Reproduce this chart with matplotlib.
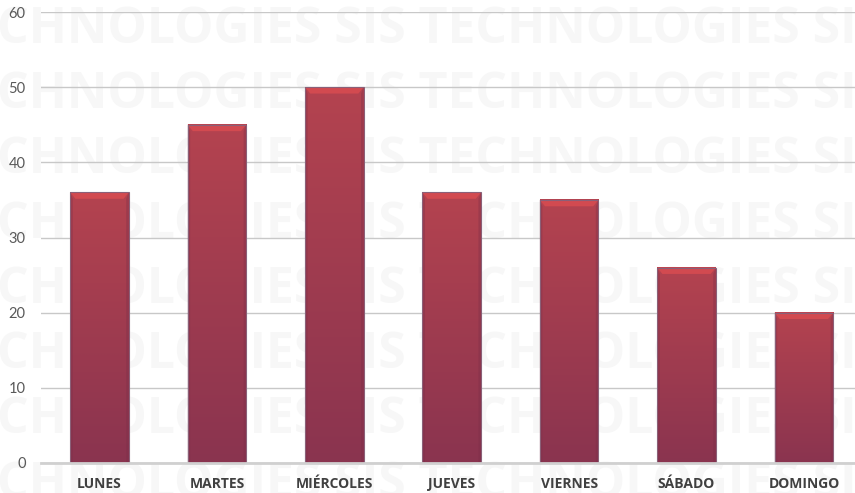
"""Bar chart: visitas por día de la semana, estilo Excel con marca de agua."""
import numpy as np
import matplotlib.pyplot as plt
from matplotlib.patches import Polygon, Rectangle
from matplotlib.colors import LinearSegmentedColormap

dias = ['LUNES', 'MARTES', 'MIÉRCOLES', 'JUEVES', 'VIERNES', 'SÁBADO', 'DOMINGO']
valores = [36, 45, 50, 36, 35, 26, 20]
y_ticks = [0, 10, 20, 30, 40, 50, 60]
marca = 'CHNOLOGIES SIS TECHNOLOGIES SIS'

W, H = 855, 493
fig = plt.figure(figsize=(W / 100, H / 100), dpi=100)
fig.patch.set_facecolor('white')

# marca de agua detrás del gráfico
for yc in [30, 95, 160, 225, 290, 355, 420, 485]:
    fig.text(-3 / W, 1 - yc / H, marca, ha='left', va='center',
             fontsize=35.8, fontweight='bold', family='Open Sans',
             color='#f7f7f7', zorder=-10)

ax = fig.add_axes([40.8 / W, 30 / H, 821.8 / W, 451 / H])
ax.patch.set_alpha(0)

grad = LinearSegmentedColormap.from_list('barra', ['#8a3450', '#b4434f'])
g = np.linspace(0, 1, 256).reshape(-1, 1)
ancho = 0.5
x = np.arange(len(dias))
for xi, v in zip(x, valores):
    x0, x1 = xi - ancho / 2, xi + ancho / 2
    ax.imshow(g, cmap=grad, origin='lower', extent=[x0, x1, 0, v],
              aspect='auto', zorder=2, interpolation='bicubic')
    # bisel superior
    dx, dy = 0.045, 0.85
    ax.add_patch(Polygon([(x0, v), (x1, v), (x1 - dx, v - dy), (x0 + dx, v - dy)],
                         closed=True, facecolor='#d24a50', edgecolor='none',
                         zorder=3))
    # bordes laterales oscuros
    ax.add_patch(Polygon([(x0, v), (x0 + dx * 0.5, v - dy), (x0 + dx * 0.5, 0), (x0, 0)],
                         closed=True, facecolor='#7a2e48', alpha=0.35,
                         edgecolor='none', zorder=3))
    ax.add_patch(Polygon([(x1, v), (x1 - dx * 0.5, v - dy), (x1 - dx * 0.5, 0), (x1, 0)],
                         closed=True, facecolor='#7a2e48', alpha=0.35,
                         edgecolor='none', zorder=3))
    ax.add_patch(Rectangle((x0, 0), ancho, v, facecolor='none',
                           edgecolor='#8a6078', linewidth=0.8, zorder=4))

ax.set_xlim(-0.5, len(dias) - 0.5)
ax.set_ylim(0, 60)
ax.set_yticks(y_ticks)
ax.set_yticklabels([str(t) for t in y_ticks], family='Lato', fontsize=10.5,
                   color='#595959')
ax.set_xticks(x)
ax.set_xticklabels(dias, family='Open Sans', fontweight='bold', fontsize=10,
                   color='#404040')
ax.tick_params(axis='both', length=0)
ax.tick_params(axis='y', pad=11)
ax.tick_params(axis='x', pad=10)
ax.grid(axis='y', color='#c8c8c8', linewidth=1.0, zorder=1)
ax.set_axisbelow(True)
for s in ['top', 'right', 'left']:
    ax.spines[s].set_visible(False)
ax.spines['bottom'].set_color('#d0d0d0')
ax.spines['bottom'].set_linewidth(2)
ax.spines['bottom'].set_zorder(5)

fig.savefig('out.png', dpi=100)
